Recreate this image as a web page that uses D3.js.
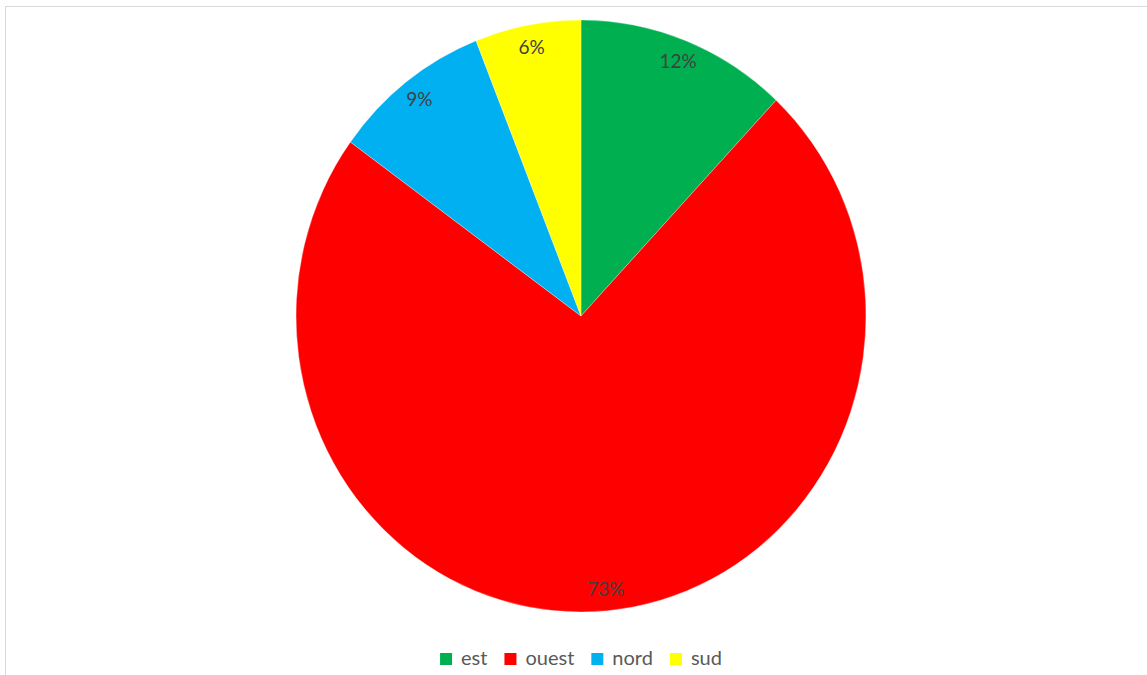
<!DOCTYPE html>
<html>
<head>
<meta charset="utf-8">
<script src="https://cdn.jsdelivr.net/npm/d3@7"></script>
<style>
  html, body { margin: 0; padding: 0; background: #fff; }
  svg { display: block; font-family: Lato, "Open Sans", sans-serif; }
</style>
</head>
<body>
<svg id="chart" width="1147" height="675"></svg>
<script>
// Share of the total by region (per cent)
const regions = ["est", "ouest", "nord", "sud"];
const shares = [12, 73, 9, 6];
const colours = ["#00b050", "#ff0000", "#00b0f0", "#ffff00"];

const svg = d3.select("#chart");
const W = 1147, H = 675;

// chart frame
svg.append("rect")
  .attr("x", 5.5).attr("y", 6.5)
  .attr("width", W - 5).attr("height", H)
  .attr("fill", "#fff")
  .attr("stroke", "#d9d9d9")
  .attr("stroke-width", 1);

const cx = 581, cy = 316;
const radius = 296;
const xStretch = 285 / 296; // plot area is slightly narrower than tall

const data = regions.map((r, i) => ({ region: r, value: shares[i] }));
const colour = d3.scaleOrdinal().domain(regions).range(colours);

const pie = d3.pie().value(d => d.value).sort(null);
const arc = d3.arc().innerRadius(0).outerRadius(radius);
const arcs = pie(data);

const g = svg.append("g")
  .attr("transform", `translate(${cx},${cy}) scale(${xStretch},1)`);

g.selectAll("path.slice")
  .data(arcs)
  .join("path")
  .attr("class", "slice")
  .attr("d", arc)
  .attr("fill", d => colour(d.data.region))
  .attr("stroke", "#ffffff")
  .attr("stroke-opacity", 0.6)
  .attr("stroke-width", 0.5)
  .attr("vector-effect", "non-scaling-stroke");

// percentage labels near the outer edge of each slice
const total = d3.sum(shares);
const labelArc = d3.arc().innerRadius(274).outerRadius(274);
svg.append("g")
  .selectAll("text")
  .data(arcs)
  .join("text")
  .attr("x", d => cx + labelArc.centroid(d)[0] * xStretch)
  .attr("y", d => cy + labelArc.centroid(d)[1])
  .attr("text-anchor", "middle")
  .attr("dy", "0.36em")
  .attr("font-size", 19)
  .attr("fill", "#404040")
  .text(d => Math.round(d.data.value / total * 100) + "%");

// legend, centred below the pie
const legend = svg.append("g");
const items = legend.selectAll("g.item")
  .data(regions)
  .join("g")
  .attr("class", "item");

items.append("rect")
  .attr("width", 12).attr("height", 12)
  .attr("y", -12)
  .attr("fill", d => colour(d));

items.append("text")
  .attr("x", 21)
  .attr("y", 0)
  .attr("font-size", 20)
  .attr("fill", "#595959")
  .text(d => d);

let offset = 0;
items.each(function () {
  const node = d3.select(this);
  node.attr("transform", `translate(${offset},0)`);
  const w = 21 + node.select("text").node().getComputedTextLength();
  offset += w + 17;
});
const legendWidth = offset - 17;
legend.attr("transform", `translate(${cx - legendWidth / 2},${665})`);
</script>
</body>
</html>
